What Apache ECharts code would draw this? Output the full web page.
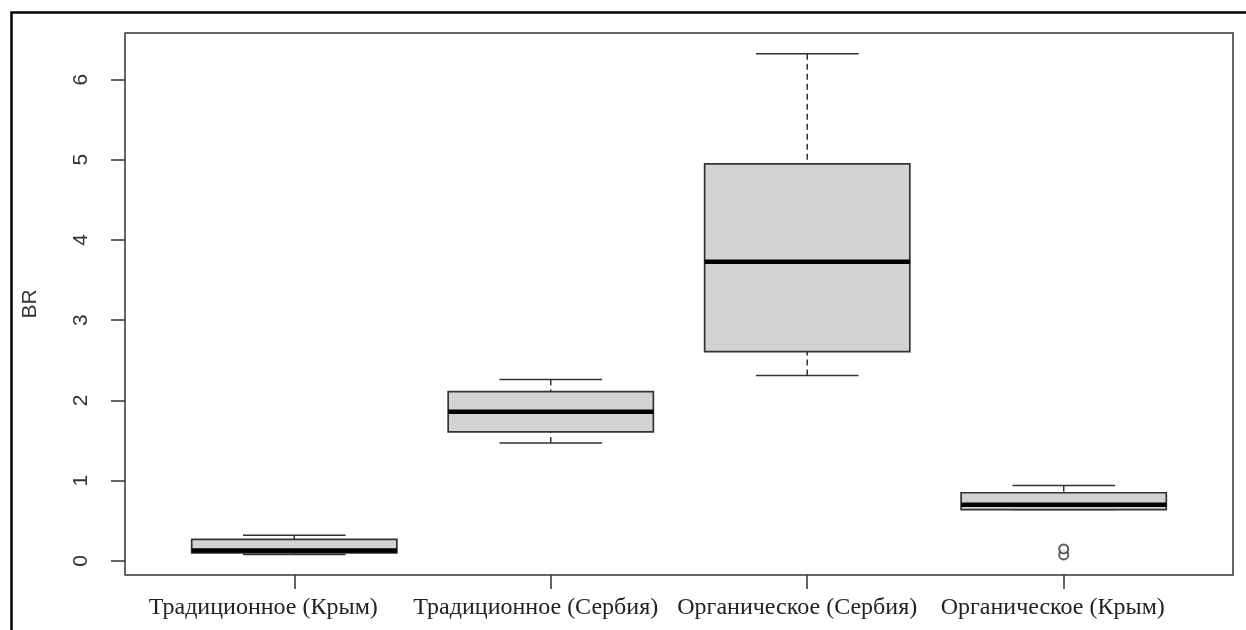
<!DOCTYPE html>
<html>
<head>
<meta charset="utf-8">
<script src="https://cdn.jsdelivr.net/npm/echarts@6/dist/echarts.min.js"></script>
<style>
html,body{margin:0;padding:0;background:#fff;}
#chart{width:1246px;height:630px;}
</style>
</head>
<body>
<div id="chart"></div>
<script>
// ---- data ----
const categories = ['Традиционное (Крым)', 'Традиционное (Сербия)', 'Органическое (Сербия)', 'Органическое (Крым)'];
const positions = [1, 2, 3, 4];
const whiskerLow = [0.08, 1.47, 2.31, 0.64];
const q1 = [0.10, 1.61, 2.61, 0.64];
const median = [0.13, 1.86, 3.73, 0.70];
const q3 = [0.27, 2.11, 4.95, 0.85];
const whiskerHigh = [0.32, 2.26, 6.32, 0.94];
const outliers = [[4, 0.075], [4, 0.15]];
const yTicks = [0, 1, 2, 3, 4, 5, 6];
const yName = 'BR';
// horizontal shift of each category label (as in the reference)
const labelShift = [-31, -15, -10, -11];

const boxData = positions.map((p, i) => [p, whiskerLow[i], q1[i], median[i], q3[i], whiskerHigh[i]]);

const chart = echarts.init(document.getElementById('chart'), null, {renderer: 'canvas'});

const rich = {};
labelShift.forEach((s, i) => {
  rich['l' + i] = {
    fontFamily: 'Liberation Serif', fontSize: 24, color: '#222',
    padding: s < 0 ? [0, -2 * s, 0, 0] : [0, 0, 0, 2 * s]
  };
});

function renderBox(params, api) {
  const x = api.value(0);
  const lo = api.value(1), a = api.value(2), m = api.value(3), b = api.value(4), hi = api.value(5);
  const halfBox = 0.4, halfCap = 0.2;
  const pL = api.coord([x - halfBox, b]);
  const pR = api.coord([x + halfBox, a]);
  const cL = api.coord([x - halfCap, hi]);
  const cR = api.coord([x + halfCap, lo]);
  const pc = api.coord([x, m]);
  const pHi = api.coord([x, hi]);
  const pLo = api.coord([x, lo]);
  const pB = api.coord([x, b]);
  const pA = api.coord([x, a]);
  const stroke = '#333';
  const children = [
    {type: 'line', shape: {x1: pHi[0], y1: pHi[1], x2: pB[0], y2: pB[1]}, style: {stroke: stroke, lineWidth: 1.5, lineDash: [6, 4]}},
    {type: 'line', shape: {x1: pLo[0], y1: pLo[1], x2: pA[0], y2: pA[1]}, style: {stroke: stroke, lineWidth: 1.5, lineDash: [6, 4]}},
    {type: 'line', shape: {x1: cL[0], y1: cL[1], x2: cR[0], y2: cL[1]}, style: {stroke: stroke, lineWidth: 1.5}},
    {type: 'line', shape: {x1: cL[0], y1: cR[1], x2: cR[0], y2: cR[1]}, style: {stroke: stroke, lineWidth: 1.5}},
    {type: 'rect', shape: {x: pL[0], y: pL[1], width: pR[0] - pL[0], height: pR[1] - pL[1]}, style: {fill: '#d3d3d3', stroke: stroke, lineWidth: 1.7}},
    {type: 'line', shape: {x1: pL[0], y1: pc[1], x2: pR[0], y2: pc[1]}, style: {stroke: '#000', lineWidth: 4.5}}
  ];
  return {type: 'group', children: children};
}

const option = {
  backgroundColor: '#fff',
  animation: false,
  graphic: [{
    type: 'rect', left: 9, top: 10, shape: {x: 0, y: 0, width: 1300, height: 700},
    style: {fill: 'none', stroke: '#000', lineWidth: 2.5}, z: 100
  }],
  grid: {left: 125, top: 33, right: 13, bottom: 55, show: true, borderColor: '#333', borderWidth: 1.5, backgroundColor: '#fff'},
  xAxis: {
    type: 'value', min: 0.34, max: 4.66,
    splitLine: {show: false},
    axisLine: {show: false, onZero: false},
    axisTick: {show: true, inside: false, customValues: positions, length: 14, lineStyle: {color: '#333', width: 1.5}},
    axisLabel: {
      customValues: positions, margin: 21,
      formatter: function (v) { const i = positions.indexOf(v); return i < 0 ? '' : '{l' + i + '|' + categories[i] + '}'; },
      rich: rich
    }
  },
  yAxis: {
    type: 'value', min: -0.175, max: 6.58,
    name: yName, nameLocation: 'middle', nameGap: 84, nameRotate: 90,
    nameTextStyle: {fontFamily: 'Liberation Sans', fontSize: 21, color: '#333'},
    splitLine: {show: false},
    axisLine: {show: false, onZero: false},
    axisTick: {show: true, inside: false, customValues: yTicks, length: 14, lineStyle: {color: '#333', width: 1.5}},
    axisLabel: {customValues: yTicks, rotate: 90, margin: 33, fontFamily: 'Liberation Sans', fontSize: 21, color: '#333'}
  },
  series: [
    {type: 'custom', renderItem: renderBox, data: boxData, encode: {x: 0, y: [1, 2, 3, 4, 5]}, z: 2},
    {type: 'scatter', data: outliers, symbol: 'emptyCircle', symbolSize: 9, itemStyle: {color: '#333', borderColor: '#333', borderWidth: 1.4}, z: 3}
  ]
};
chart.setOption(option);
</script>
</body>
</html>
